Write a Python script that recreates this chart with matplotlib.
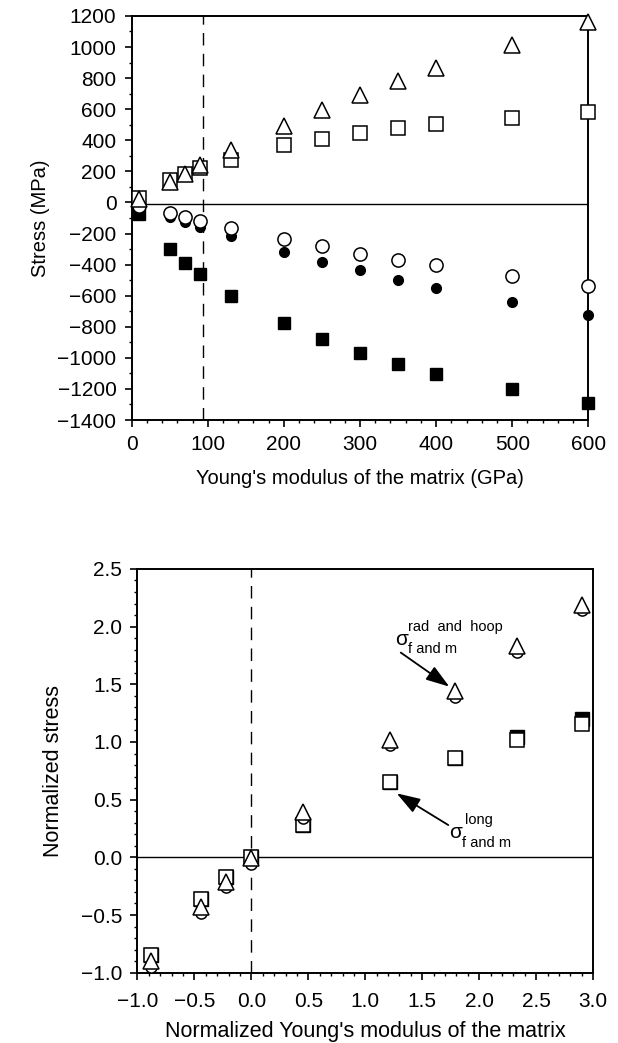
import matplotlib
matplotlib.use("Agg")
import matplotlib.pyplot as plt
from matplotlib.ticker import MultipleLocator, FuncFormatter

plt.rcParams['font.family'] = ['Liberation Sans', 'DejaVu Sans']
plt.rcParams['axes.unicode_minus'] = True

# ---- top panel data: stress (MPa) vs Young's modulus of the matrix (GPa)
modulus = [10, 50, 70, 90, 130, 200, 250, 300, 350, 400, 500, 600]
hoop_open_tri = [20, 130, 185, 240, 335, 495, 595, 692, 784, 868, 1013, 1163]
long_m_open_sq = [30, 145, 180, 222, 270, 370, 408, 445, 481, 503, 546, 584]
rad_open_circ = [-20, -68, -95, -119, -162, -237, -278, -331, -370, -400, -473, -537]
rad_fill_circ = [-40, -91, -123, -155, -215, -321, -381, -434, -499, -550, -640, -726]
long_f_fill_sq = [-75, -301, -391, -462, -602, -778, -881, -966, -1041, -1104, -1198, -1292]
dashed_modulus = 94

# ---- bottom panel data: normalized stress vs normalized modulus
norm_mod = [-0.88, -0.44, -0.22, 0.0, 0.45, 1.22, 1.79, 2.33, 2.90]
norm_tri = [-0.90, -0.43, -0.21, -0.01, 0.39, 1.02, 1.44, 1.83, 2.19]
norm_circ = [-0.95, -0.48, -0.26, -0.06, 0.34, 0.97, 1.39, 1.78, 2.14]
norm_fill_sq = [-0.85, -0.36, -0.17, 0.0, 0.28, 0.65, 0.86, 1.04, 1.20]
norm_open_sq = [-0.85, -0.36, -0.17, 0.0, 0.28, 0.65, 0.86, 1.02, 1.16]

fig = plt.figure(figsize=(6.18, 10.43), dpi=100)
ax1 = fig.add_axes([0.2131, 0.5973, 0.7389, 0.3874])
ax2 = fig.add_axes([0.2222, 0.0674, 0.7378, 0.3871])

lw_m = 1.1

def style_axes(ax, fs):
    for s in ax.spines.values():
        s.set_linewidth(1.4)
    ax.tick_params(which='major', direction='out', length=5, width=1.2,
                   labelsize=fs, top=False, right=False, pad=6)
    ax.tick_params(which='minor', direction='out', length=2.5, width=1.0,
                   top=False, right=False)

def minus_fmt(fmt):
    return FuncFormatter(lambda v, p: (fmt % v).replace('-', '\u2212'))

# top panel
ax1.axhline(-12, color='black', lw=1.0, zorder=1)
ax1.axvline(dashed_modulus, color='black', lw=1.0, dashes=(9, 6), zorder=1)
ax1.plot(modulus, long_f_fill_sq, 's', ms=8, mfc='black', mec='black', clip_on=False, zorder=3)
ax1.plot(modulus, rad_fill_circ, 'o', ms=7, mfc='black', mec='black', clip_on=False, zorder=3)
ax1.plot(modulus, rad_open_circ, 'o', ms=9.5, mfc='white', mec='black', mew=lw_m, clip_on=False, zorder=4)
ax1.plot(modulus, long_m_open_sq, 's', ms=9.5, mfc='white', mec='black', mew=lw_m, clip_on=False, zorder=4)
ax1.plot(modulus, hoop_open_tri, '^', ms=12, mfc='white', mec='black', mew=lw_m, clip_on=False, zorder=5)

ax1.set_xlim(0, 600)
ax1.set_ylim(-1400, 1200)
ax1.xaxis.set_major_locator(MultipleLocator(100))
ax1.xaxis.set_minor_locator(MultipleLocator(20))
ax1.yaxis.set_major_locator(MultipleLocator(200))
ax1.yaxis.set_minor_locator(MultipleLocator(100))
ax1.yaxis.set_major_formatter(minus_fmt('%d'))
style_axes(ax1, 15)
ax1.set_xlabel("Young's modulus of the matrix (GPa)", fontsize=14.5)
ax1.set_ylabel("Stress (MPa)", fontsize=14.5)
ax1.xaxis.set_label_coords(0.5, -0.12)
ax1.yaxis.set_label_coords(-0.18, 0.5)

# bottom panel
ax2.axhline(0, color='black', lw=1.0, zorder=1)
ax2.axvline(0, color='black', lw=1.0, dashes=(9, 6), zorder=1)
ax2.plot(norm_mod, norm_fill_sq, 's', ms=9.5, mfc='black', mec='black', clip_on=False, zorder=3)
ax2.plot(norm_mod, norm_open_sq, 's', ms=9.5, mfc='white', mec='black', mew=lw_m, clip_on=False, zorder=4)
ax2.plot(norm_mod, norm_circ, 'o', ms=8, mfc='white', mec='black', mew=lw_m, clip_on=False, zorder=5)
ax2.plot(norm_mod, norm_tri, '^', ms=12, mfc='white', mec='black', mew=lw_m, clip_on=False, zorder=6)

ax2.set_xlim(-1.0, 3.0)
ax2.set_ylim(-1.0, 2.5)
ax2.xaxis.set_major_locator(MultipleLocator(0.5))
ax2.xaxis.set_minor_locator(MultipleLocator(0.1))
ax2.yaxis.set_major_locator(MultipleLocator(0.5))
ax2.yaxis.set_minor_locator(MultipleLocator(0.1))
ax2.xaxis.set_major_formatter(minus_fmt('%.1f'))
ax2.yaxis.set_major_formatter(minus_fmt('%.1f'))
style_axes(ax2, 15)
ax2.tick_params(axis='x', which='major', pad=9)
ax2.set_xlabel("Normalized Young's modulus of the matrix", fontsize=15.5)
ax2.set_ylabel("Normalized stress", fontsize=15.5)
ax2.xaxis.set_label_coords(0.5, -0.12)
ax2.yaxis.set_label_coords(-0.16, 0.5)

arrow = dict(arrowstyle='-|>,head_length=0.9,head_width=0.3', color='black',
             lw=1.3, mutation_scale=16, shrinkA=0, shrinkB=0)
# rad and hoop annotation
ax2.annotate('', xy=(1.737, 1.48), xytext=(1.311, 1.775), arrowprops=arrow)
ax2.text(1.315, 1.885, 'σ', fontsize=15, ha='center', va='center')
ax2.text(1.377, 1.995, 'rad  and  hoop', fontsize=10.5, ha='left', va='center')
ax2.text(1.375, 1.805, 'f and m', fontsize=10.5, ha='left', va='center')
# long annotation
ax2.annotate('', xy=(1.275, 0.555), xytext=(1.728, 0.28), arrowprops=arrow)
ax2.text(1.795, 0.215, 'σ', fontsize=15, ha='center', va='center')
ax2.text(1.875, 0.325, 'long', fontsize=10.5, ha='left', va='center')
ax2.text(1.845, 0.125, 'f and m', fontsize=10.5, ha='left', va='center')

fig.savefig('out.png', dpi=100)
